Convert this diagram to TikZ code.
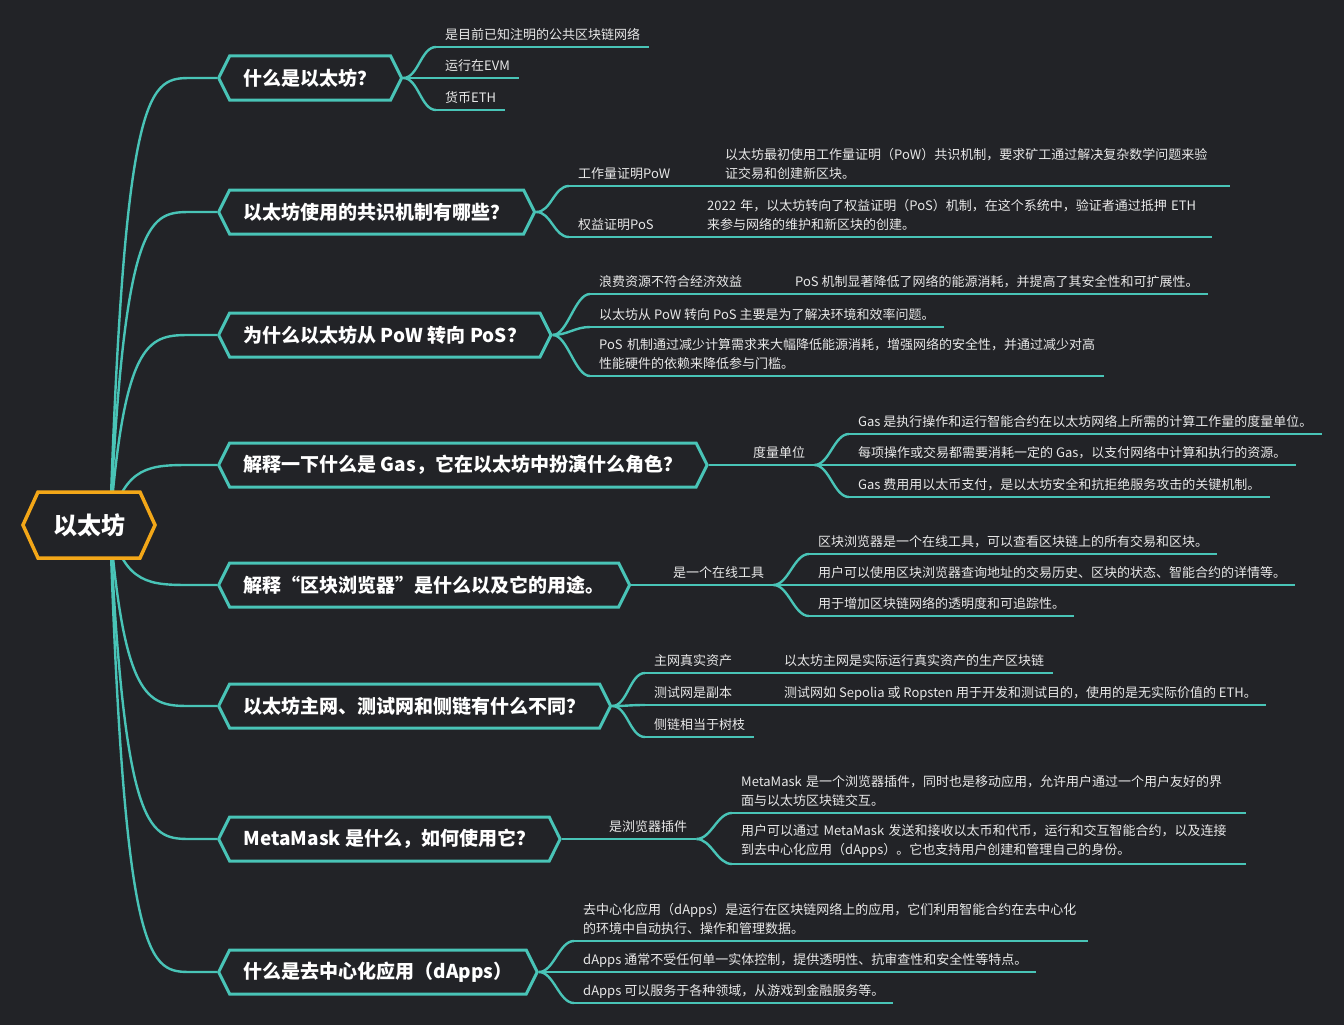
\documentclass[tikz,border=0pt]{standalone}
\usepackage{fontspec}
\setmainfont{Noto Sans CJK SC}
\usepackage{tikz}
\usetikzlibrary{shapes.symbols}
\usetikzlibrary{backgrounds}
\definecolor{bg}{RGB}{34,35,39}
\definecolor{mint}{RGB}{73,196,183}
\definecolor{gold}{RGB}{243,167,24}
\definecolor{ink}{RGB}{232,232,232}
\tikzset{
	rootbox/.style={signal, signal to=west and east, signal pointer angle=131, draw=gold, line width=3.5pt, fill=bg, text=white, font=\fontsize{24}{28}\selectfont\bfseries, minimum height=66pt, inner xsep=15pt},
	topic/.style={signal, signal to=west and east, signal pointer angle=127, draw=mint, line width=3pt, fill=bg, text=white, font=\fontsize{19}{22}\selectfont\bfseries, minimum height=44pt, inner xsep=14pt, anchor=west},
	leaf/.style={text=ink, font=\fontsize{13}{19}\selectfont, align=left, inner xsep=9pt, inner ysep=5pt, text depth=2pt, anchor=south west},
	wrap/.style={text width=496pt, text depth={}, inner ysep=6pt},
	wire/.style={draw=mint, line width=2.4pt},
	under/.style={draw=mint, line width=2pt}
}
\begin{document}
\begin{tikzpicture}[x=1pt,y=-1pt]
	\useasboundingbox (0,0) rectangle (1344,1025);
	\node[rootbox] (eth) at (89,525) {以太坊};
	\node[topic] (b1) at (217,78) {什么是以太坊？};
	\node[topic] (b2) at (217,212) {以太坊使用的共识机制有哪些？};
	\node[topic] (b3) at (217,335) {为什么以太坊从 PoW 转向 PoS？};
	\node[topic] (b4) at (217,465) {解释一下什么是 Gas，它在以太坊中扮演什么角色？};
	\node[topic] (b5) at (217,585) {解释“区块浏览器”是什么以及它的用途。};
	\node[topic] (b6) at (217,706) {以太坊主网、测试网和侧链有什么不同？};
	\node[topic] (b7) at (217,839) {MetaMask 是什么，如何使用它？};
	\node[topic] (b8) at (217,972) {什么是去中心化应用（dApps）};

	\node[leaf] (c11) at (436,47) {是目前已知注明的公共区块链网络};
	\node[leaf] (c12) at (436,78) {运行在EVM};
	\node[leaf] (c13) at (436,110) {货币ETH};

	\node[leaf] (c21) at (569,186) {工作量证明PoW};
	\node[leaf,wrap] (d21) at (716,186) {以太坊最初使用工作量证明（PoW）共识机制，要求矿工通过解决复杂数学问题来验\\证交易和创建新区块。};
	\node[leaf] (c22) at (569,237) {权益证明PoS};
	\node[leaf,wrap] (d22) at (698,237) {2022 年，以太坊转向了权益证明（PoS）机制，在这个系统中，验证者通过抵押 ETH\\来参与网络的维护和新区块的创建。};

	\node[leaf] (c31) at (590,294) {浪费资源不符合经济效益};
	\node[leaf] (d31) at (786,294) {PoS 机制显著降低了网络的能源消耗，并提高了其安全性和可扩展性。};
	\node[leaf] (c32) at (590,327) {以太坊从 PoW 转向 PoS 主要是为了解决环境和效率问题。};
	\node[leaf,wrap] (c33) at (590,376) {PoS 机制通过减少计算需求来大幅降低能源消耗，增强网络的安全性，并通过减少对高\\性能硬件的依赖来降低参与门槛。};

	\node[leaf] (m4) at (744,465) {度量单位};
	\node[leaf] (e41) at (849,434) {Gas 是执行操作和运行智能合约在以太坊网络上所需的计算工作量的度量单位。};
	\node[leaf] (e42) at (849,465) {每项操作或交易都需要消耗一定的 Gas，以支付网络中计算和执行的资源。};
	\node[leaf] (e43) at (849,497) {Gas 费用用以太币支付，是以太坊安全和抗拒绝服务攻击的关键机制。};

	\node[leaf] (m5) at (664,585) {是一个在线工具};
	\node[leaf] (e51) at (809,554) {区块浏览器是一个在线工具，可以查看区块链上的所有交易和区块。};
	\node[leaf] (e52) at (809,585) {用户可以使用区块浏览器查询地址的交易历史、区块的状态、智能合约的详情等。};
	\node[leaf] (e53) at (809,616) {用于增加区块链网络的透明度和可追踪性。};

	\node[leaf] (c61) at (645,673) {主网真实资产};
	\node[leaf] (d61) at (775,673) {以太坊主网是实际运行真实资产的生产区块链};
	\node[leaf] (c62) at (645,705) {测试网是副本};
	\node[leaf] (d62) at (775,705) {测试网如 Sepolia 或 Ropsten 用于开发和测试目的，使用的是无实际价值的 ETH。};
	\node[leaf] (c63) at (645,737) {侧链相当于树枝};

	\node[leaf] (m7) at (600,839) {是浏览器插件};
	\node[leaf,wrap] (e71) at (732,813) {MetaMask 是一个浏览器插件，同时也是移动应用，允许用户通过一个用户友好的界\\面与以太坊区块链交互。};
	\node[leaf,wrap] (e72) at (732,864) {用户可以通过 MetaMask 发送和接收以太币和代币，运行和交互智能合约，以及连接\\到去中心化应用（dApps）。它也支持用户创建和管理自己的身份。};

	\node[leaf,wrap] (e81) at (574,941) {去中心化应用（dApps）是运行在区块链网络上的应用，它们利用智能合约在去中心化\\的环境中自动执行、操作和管理数据。};
	\node[leaf] (e82) at (574,972) {dApps 通常不受任何单一实体控制，提供透明性、抗审查性和安全性等特点。};
	\node[leaf] (e83) at (574,1003) {dApps 可以服务于各种领域，从游戏到金融服务等。};

	\begin{scope}[on background layer]
		\fill[bg] (0,0) rectangle (1344,1025);
		\foreach \i in {1,...,8}
			\draw[wire] ([xshift=21pt]eth.center) .. controls ([xshift=36pt]eth.center |- b\i.west) and ([xshift=-67pt]b\i.west) .. ([xshift=-25pt]b\i.west) -- (b\i.west);
	\end{scope}

	\foreach \p/\c in {b1.east/c11,b1.east/c12,b1.east/c13,b2.east/c21,b2.east/c22,b3.east/c31,b3.east/c32,b3.east/c33,m4.south east/e41,m4.south east/e42,m4.south east/e43,m5.south east/e51,m5.south east/e52,m5.south east/e53,b6.east/c61,b6.east/c62,b6.east/c63,m7.south east/e71,m7.south east/e72,b8.east/e81,b8.east/e82,b8.east/e83}
		\draw[wire] (\p) .. controls +(15,0) and +(-15,0) .. (\c.south west);
	\draw[wire] (b4.east) -- (m4.south west);
	\draw[wire] (b5.east) -- (m5.south west);
	\draw[wire] (b7.east) -- (m7.south west);
	\draw[under] (c21.south east) -- (d21.south west);
	\draw[under] (c22.south east) -- (d22.south west);
	\draw[under] (c31.south east) -- (d31.south west);
	\draw[under] (c61.south east) -- (d61.south west);
	\draw[under] (c62.south east) -- (d62.south west);
	\foreach \n in {c11,c12,c13,c21,d21,c22,d22,c31,d31,c32,c33,m4,e41,e42,e43,m5,e51,e52,e53,c61,d61,c62,d62,c63,m7,e71,e72,e81,e82,e83}
		\draw[under] (\n.south west) -- (\n.south east);
\end{tikzpicture}
\end{document}
